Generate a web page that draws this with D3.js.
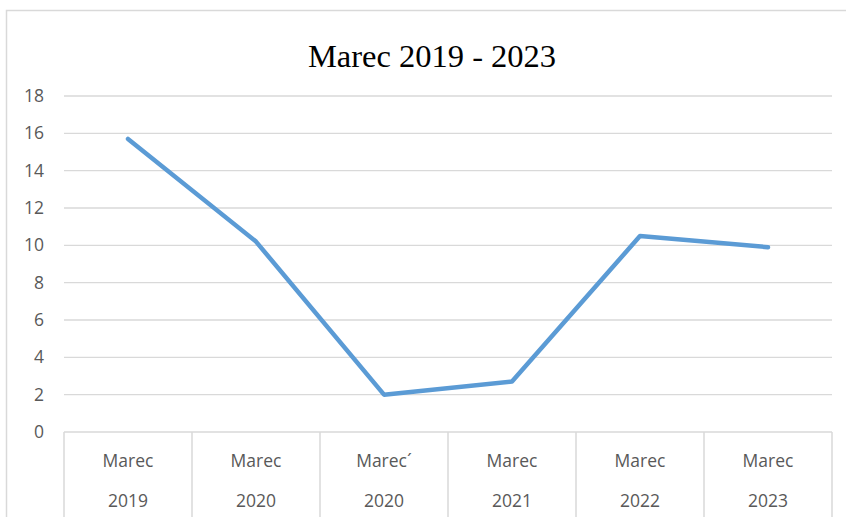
<!DOCTYPE html>
<html>
<head>
<meta charset="utf-8">
<script src="https://cdn.jsdelivr.net/npm/d3@7"></script>
<style>
html,body{margin:0;padding:0;background:#fff;}
svg{display:block;}
</style>
</head>
<body>
<svg id="chart" width="846" height="517"></svg>
<script>
const title = "Marec 2019 - 2023";
const monthLabels = ["Marec", "Marec", "Marec\u00B4", "Marec", "Marec", "Marec"];
const yearLabels = ["2019", "2020", "2020", "2021", "2022", "2023"];
const values = [15.7, 10.2, 2.0, 2.7, 10.5, 9.9];
const yTicks = [0, 2, 4, 6, 8, 10, 12, 14, 16, 18];

const svg = d3.select("#chart");
const W = 846, H = 517;
const m = {left: 64, right: 14, top: 96, bottom: 85};
const x = d3.scaleBand().domain(d3.range(values.length)).range([m.left, W - m.right]).padding(0);
const y = d3.scaleLinear().domain([0, 18]).range([H - m.bottom, m.top]);
const labelFont = "'Open Sans', Calibri, sans-serif";

// outer chart border
svg.append("rect").attr("x", 6.5).attr("y", 10.5).attr("width", 850).attr("height", 520)
  .attr("fill", "#fff").attr("stroke", "#d9d9d9").attr("stroke-width", 1.5);

svg.append("text").attr("x", 432).attr("y", 67).attr("text-anchor", "middle")
  .attr("font-family", "'Liberation Serif', 'Times New Roman', serif").attr("font-size", 32.5)
  .attr("fill", "#000").text(title);

// gridlines
svg.append("g").selectAll("line").data(yTicks.filter(d => d > 0)).join("line")
  .attr("x1", m.left).attr("x2", W - m.right)
  .attr("y1", d => y(d)).attr("y2", d => y(d))
  .attr("stroke", "#d9d9d9").attr("stroke-width", 1.3);

// y axis labels
const yAxis = d3.axisLeft(y).tickValues(yTicks).tickSize(0).tickPadding(20);
const yg = svg.append("g").attr("transform", `translate(${m.left},0)`).call(yAxis);
yg.select(".domain").remove();
yg.selectAll("text").attr("font-family", labelFont).attr("font-size", 17.5).attr("fill", "#595959");

// category table
const xg = svg.append("g");
xg.append("line").attr("x1", m.left).attr("x2", W - m.right)
  .attr("y1", y(0)).attr("y2", y(0)).attr("stroke", "#d9d9d9").attr("stroke-width", 1.5);
const edges = d3.range(values.length + 1).map(i => i < values.length ? x(i) : x(values.length - 1) + x.bandwidth());
xg.selectAll("line.sep").data(edges).join("line").attr("class", "sep")
  .attr("x1", d => d).attr("x2", d => d).attr("y1", y(0)).attr("y2", H)
  .attr("stroke", "#d9d9d9").attr("stroke-width", 1.5);
xg.selectAll("text.m").data(monthLabels).join("text").attr("class", "m")
  .attr("x", (d, i) => x(i) + x.bandwidth() / 2).attr("y", 467).attr("text-anchor", "middle")
  .attr("font-family", labelFont).attr("font-size", 17.5).attr("fill", "#595959").text(d => d);
xg.selectAll("text.yr").data(yearLabels).join("text").attr("class", "yr")
  .attr("x", (d, i) => x(i) + x.bandwidth() / 2).attr("y", 507).attr("text-anchor", "middle")
  .attr("font-family", labelFont).attr("font-size", 17.5).attr("fill", "#595959").text(d => d);

// line
const line = d3.line().x((d, i) => x(i) + x.bandwidth() / 2).y(d => y(d));
svg.append("path").datum(values).attr("d", line).attr("fill", "none")
  .attr("stroke", "#5b9bd5").attr("stroke-width", 4.5).attr("stroke-linejoin", "round").attr("stroke-linecap", "round");
</script>
</body>
</html>
